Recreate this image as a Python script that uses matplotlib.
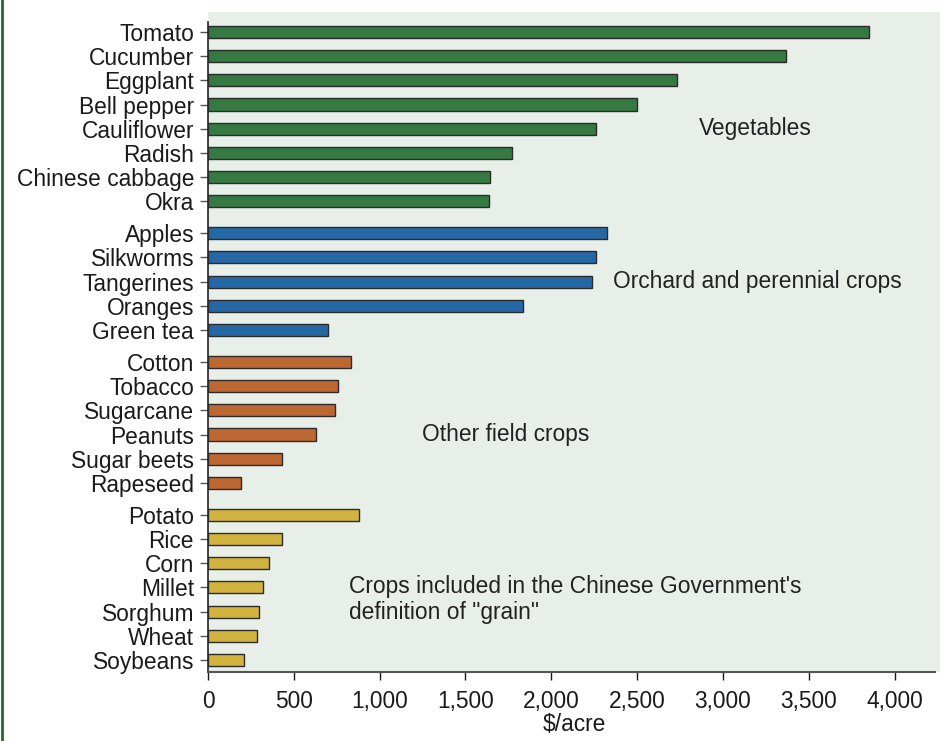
import numpy as np
import matplotlib
matplotlib.use('Agg')
import matplotlib.pyplot as plt
from matplotlib.lines import Line2D
from matplotlib.ticker import FuncFormatter

# Data ($/acre), top to bottom within each group
veg_names = ['Tomato', 'Cucumber', 'Eggplant', 'Bell pepper', 'Cauliflower',
             'Radish', 'Chinese cabbage', 'Okra']
veg_vals = [3852, 3367, 2731, 2498, 2261, 1771, 1643, 1640]

orch_names = ['Apples', 'Silkworms', 'Tangerines', 'Oranges', 'Green tea']
orch_vals = [2327, 2261, 2238, 1836, 699]

field_names = ['Cotton', 'Tobacco', 'Sugarcane', 'Peanuts', 'Sugar beets', 'Rapeseed']
field_vals = [832, 756, 739, 629, 431, 195]

grain_names = ['Potato', 'Rice', 'Corn', 'Millet', 'Sorghum', 'Wheat', 'Soybeans']
grain_vals = [879, 434, 354, 323, 297, 286, 210]

group_labels = ['Vegetables', 'Orchard and perennial crops', 'Other field crops',
                'Crops included in the Chinese Government\'s\ndefinition of "grain"']

plt.rcParams['font.family'] = ['Liberation Sans', 'DejaVu Sans']
fs = 16.4

groups = [(veg_names, veg_vals, '#357a41'),
          (orch_names, orch_vals, '#2667a5'),
          (field_names, field_vals, '#bd6733'),
          (grain_names, grain_vals, '#d2b340')]

fig = plt.figure(figsize=(9.4, 7.41), dpi=100)
ax = fig.add_axes([208/940, 1 - 672/741, 1 - 208/940, (672 - 12)/741])
ax.set_facecolor('#e8efe9')

gap = 1.33
pos = 0.0
ticks, labels, centers = [], [], []
for names, vals, col in groups:
    ys = pos + np.arange(len(names))
    ax.barh(ys, vals, height=0.5, color=col, edgecolor='#2b2b2b', linewidth=1.0, zorder=3)
    ticks.extend(ys)
    labels.extend(names)
    centers.append(ys)
    pos = ys[-1] + gap

ax.set_yticks(ticks)
ax.set_yticklabels(labels, fontsize=fs, color='#1a1a1a')
ax.set_ylim(ticks[-1] + 0.5, -0.83)
ax.set_xlim(0, 4265)
ax.set_xticks(np.arange(0, 4001, 500))
ax.xaxis.set_major_formatter(FuncFormatter(lambda v, p: f'{int(v):,}'))
ax.tick_params(axis='x', labelsize=fs, colors='#1a1a1a', length=6, width=1, pad=7)
ax.tick_params(axis='y', length=6, width=1, pad=4, color='#555555')
for t in ax.get_xticklines():
    t.set_color('#555555')
ax.set_xlabel('$/acre', fontsize=fs, color='#1a1a1a', labelpad=0)

for s in ['top', 'right']:
    ax.spines[s].set_visible(False)
ax.spines['left'].set_color('#222222')
ax.spines['left'].set_linewidth(1.2)
ax.spines['left'].set_bounds(ticks[-1] + 0.5, -0.41)
ax.spines['bottom'].set_color('#555555')
ax.spines['bottom'].set_linewidth(1.5)
ax.spines['bottom'].set_bounds(0, 4237)

# group annotations
ax.text(2861, centers[0][4], group_labels[0], fontsize=fs, color='#222222', va='center')
ax.text(2359, centers[1][2], group_labels[1], fontsize=fs, color='#222222', va='center')
ax.text(1246, centers[2][3], group_labels[2], fontsize=fs, color='#222222', va='center')
ax.text(821, (centers[3][3] + centers[3][4]) / 2, group_labels[3], fontsize=fs,
        color='#222222', va='center', linespacing=1.15)

fig.add_artist(Line2D([1.5/940, 1.5/940], [0, 1], transform=fig.transFigure,
                      color='#1f6b34', linewidth=2))

fig.savefig('out.png', dpi=100)
